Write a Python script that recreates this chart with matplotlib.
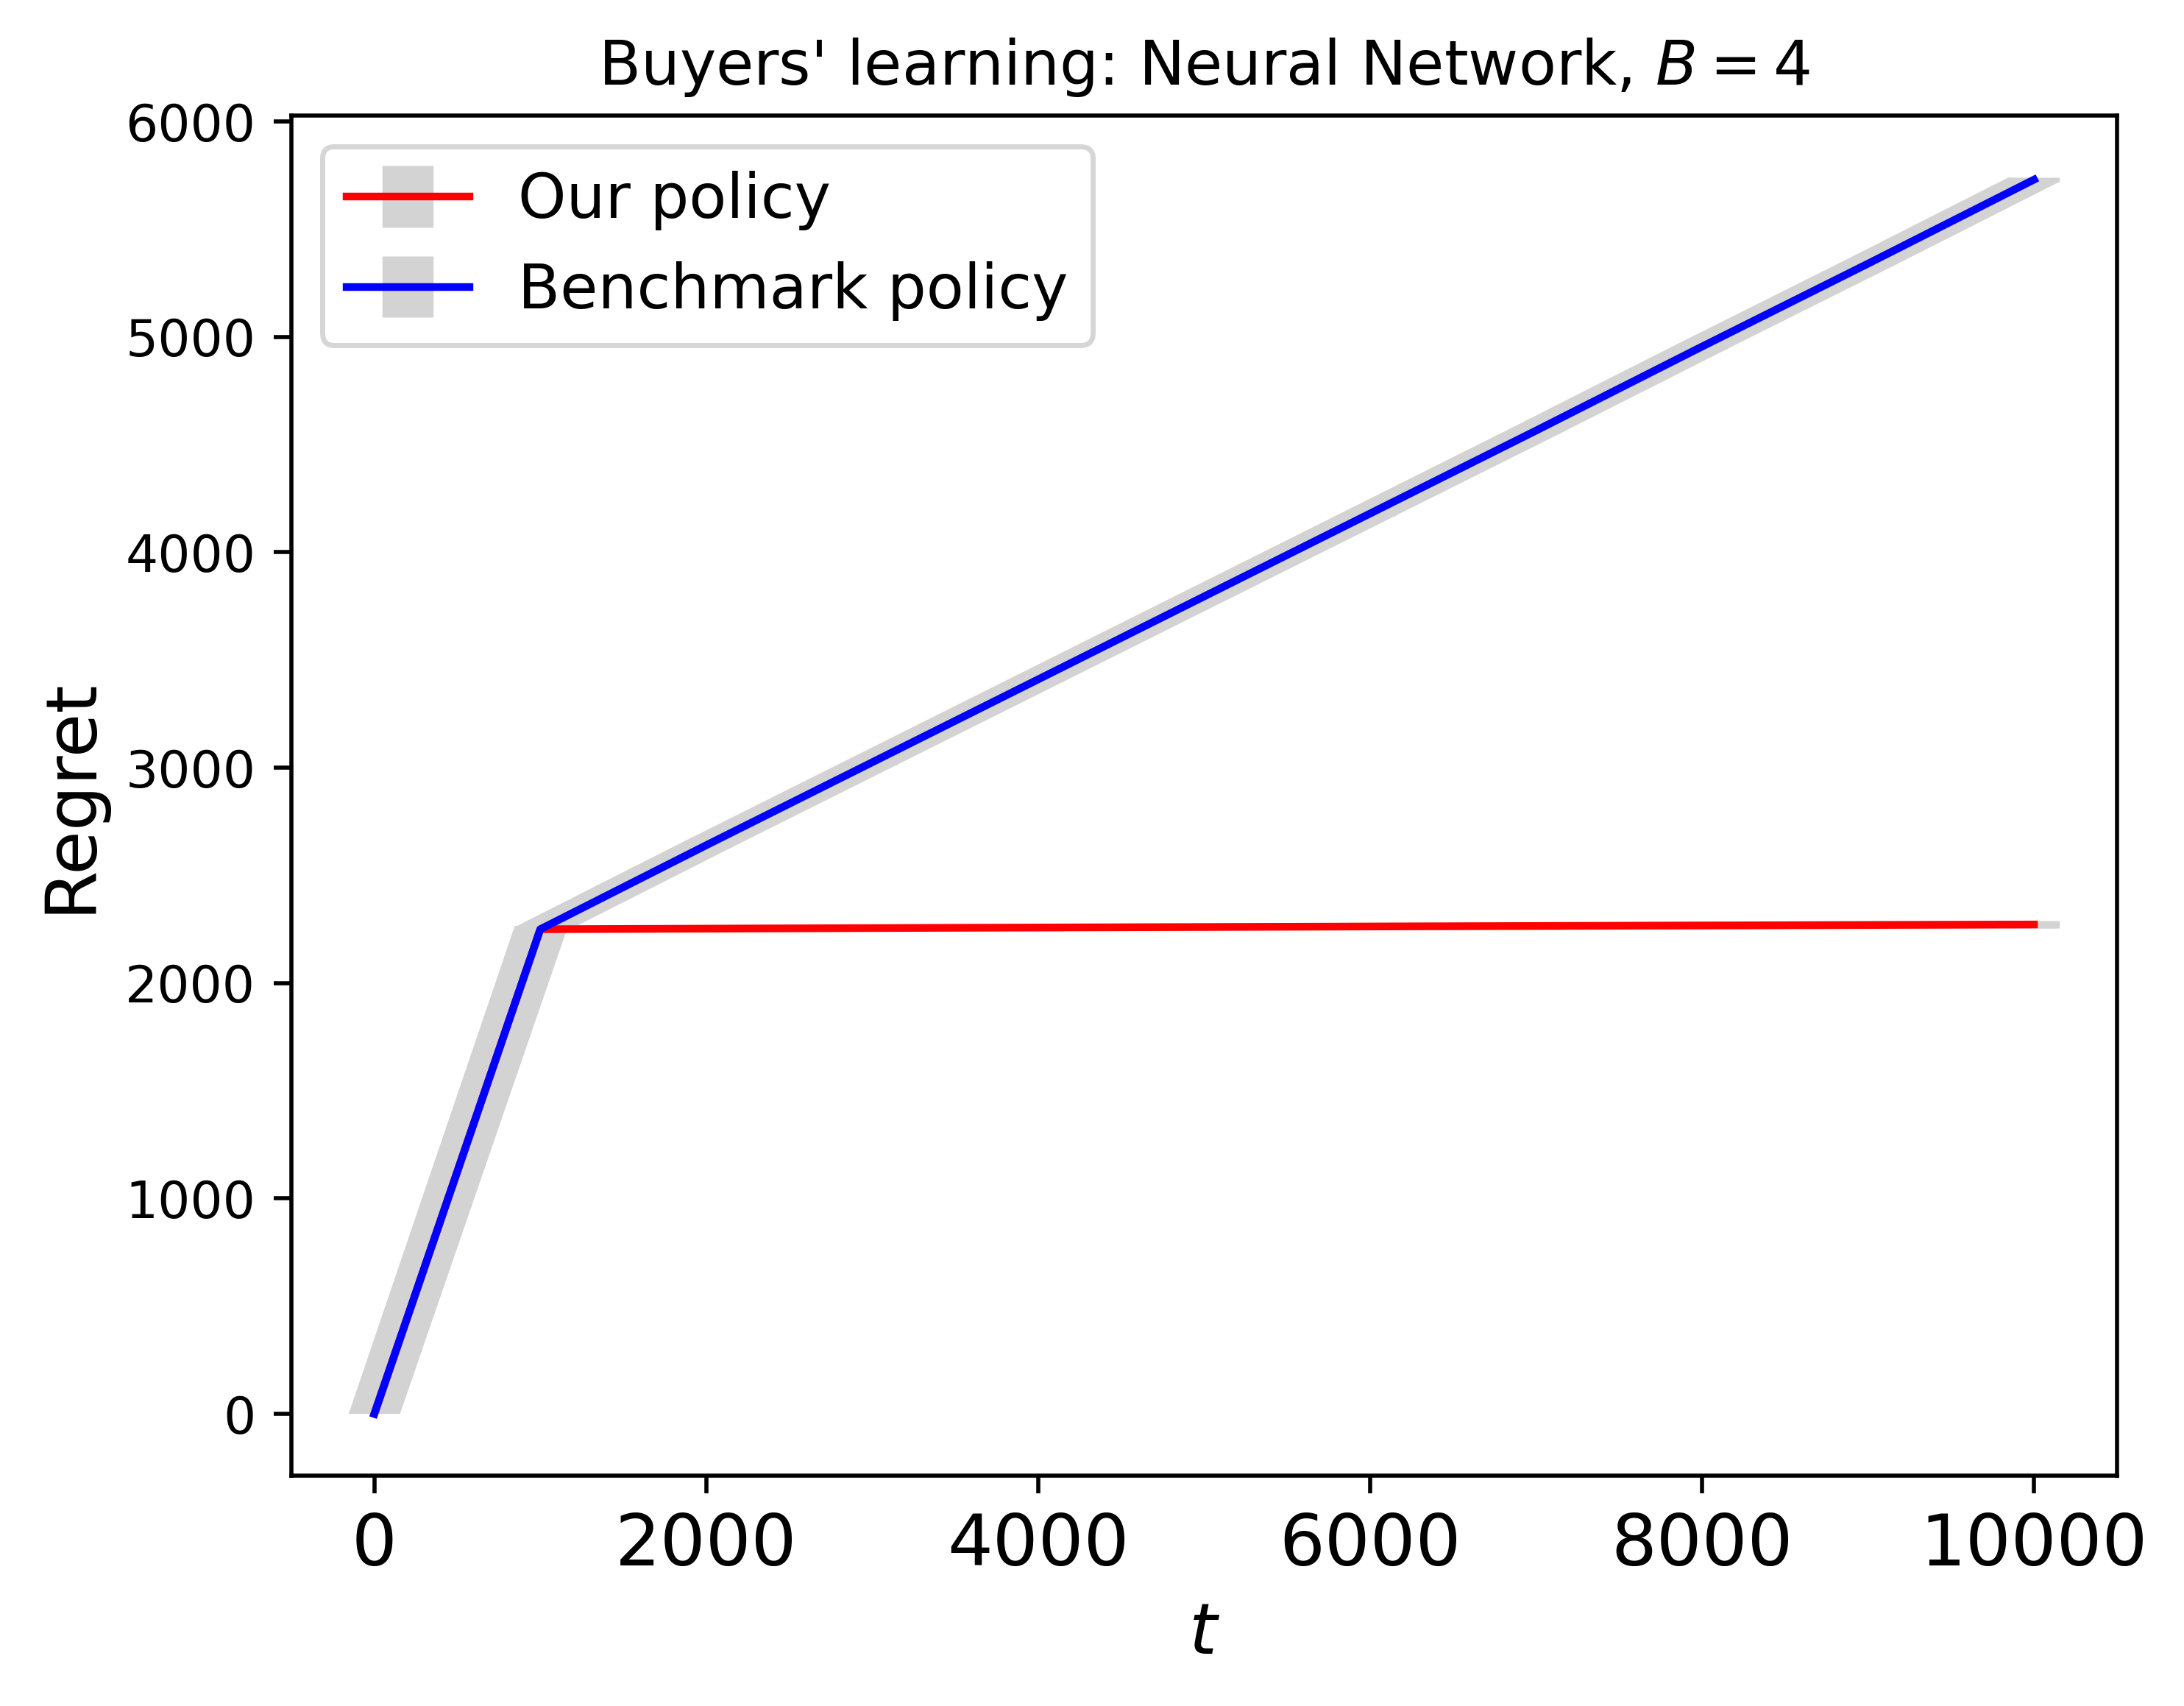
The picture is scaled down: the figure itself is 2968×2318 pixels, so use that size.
import matplotlib
matplotlib.use("Agg")
import matplotlib.pyplot as plt
import numpy as np
from matplotlib.patches import Polygon

# values
t_ours = [0, 500, 1000, 4000, 7000, 10000]
regret_ours = [0, 1125, 2250, 2258, 2265, 2272]
std_ours = [0, 8, 15, 16, 17, 18]

t_bench = [0, 500, 1000, 2000, 3000, 4000, 5000, 6000, 7000, 8000, 9000, 10000]
regret_bench = [0, 1125, 2250, 2640, 3025, 3410, 3795, 4180, 4565, 4955, 5340, 5730]
std_bench = [0, 6, 10, 10, 10, 10, 10, 10, 10, 10, 10, 10]

labels = ["Our policy", "Benchmark policy"]
colors = ["red", "blue"]

DPI = 500
ELW = 10  # width of the grey error bars, points

fig = plt.figure(figsize=(2968 / DPI, 2318 / DPI), dpi=DPI)
ax = fig.add_axes([0.1334, 0.1350, 0.8359, 0.7972])

series = [(t_ours, regret_ours, std_ours), (t_bench, regret_bench, std_bench)]
for (t, r, s), lab, col in zip(series, labels, colors):
    ax.errorbar(t, r, yerr=s, color=col, ecolor="lightgray",
                elinewidth=ELW, label=lab)

# freeze the limits, then fill the band the dense error bars would make
ax.set_xlim(ax.get_xlim())
ax.set_ylim(ax.get_ylim())
hw = ELW / 2 * DPI / 72
for t, r, s in series:
    t = np.asarray(t, float)
    r = np.asarray(r, float)
    s = np.asarray(s, float)
    up = ax.transData.transform(np.column_stack([t, r + s]))
    lo = ax.transData.transform(np.column_stack([t, r - s]))
    up[:, 0] -= hw
    lo[:, 0] += hw
    pts = np.vstack([up, lo[::-1]])
    band = Polygon(ax.transData.inverted().transform(pts), closed=True,
                   facecolor="lightgray", edgecolor="none", zorder=2)
    ax.add_patch(band)

ax.set_title("Buyers' learning: Neural Network, $B=4$", fontsize=12)
ax.set_xlabel("$t$", fontsize=14)
ax.set_ylabel("Regret", fontsize=14)
ax.tick_params(axis="x", labelsize=14)
ax.tick_params(axis="y", labelsize=10)
ax.legend(loc="upper left", fontsize=12)

fig.savefig("out.png", dpi=DPI)
